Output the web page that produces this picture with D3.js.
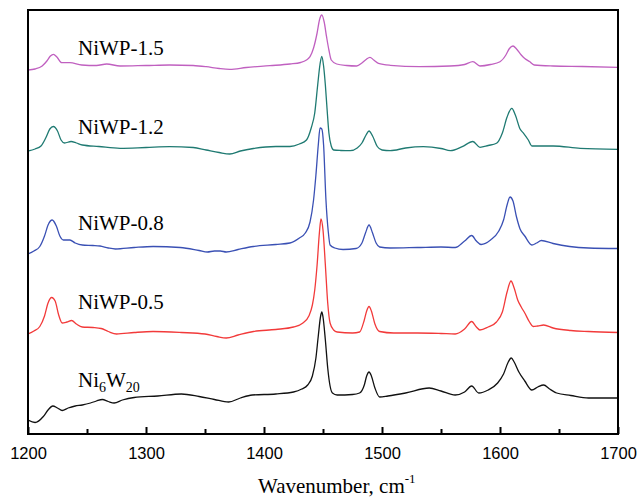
<!DOCTYPE html>
<html>
<head>
<meta charset="utf-8">
<script src="https://cdn.jsdelivr.net/npm/d3@7/dist/d3.min.js"></script>
<style>
  html, body { margin: 0; padding: 0; background: #fff; }
  svg { display: block; }
</style>
</head>
<body>
<svg id="chart" width="638" height="498"></svg>
<script>
// Wavenumber axis ticks
const xTicksMajor = [1200, 1300, 1400, 1500, 1600, 1700];
const xTicksMinor = [1250, 1350, 1450, 1550, 1650];

// Series names (bottom to top)
const seriesNames = ["Ni6W20", "NiWP-0.5", "NiWP-0.8", "NiWP-1.2", "NiWP-1.5"];

// Spectra: [wavenumber (cm-1), stacked intensity (a.u.)]
const ni6w20 = [
  [1200,14],[1206,11.5],[1213,17.5],[1217,24],[1221,28],[1225,26],[1229,23.5],[1234,26],
  [1240,28],[1246,29],[1253,31],[1258,33],[1263,34.5],[1268,32.5],[1273,31],[1280,34],
  [1290,36.5],[1310,38],[1330,40],[1345,37.5],[1358,34.5],[1370,32],[1380,36],[1390,39],
  [1410,40],[1425,42],[1432,45],[1437,49],[1441,58],[1444,76],[1446,98],[1448,118],
  [1449,122],[1450,117],[1452,94],[1454,66],[1456,48],[1458,41],[1462,39],[1475,39.5],
  [1481,41],[1485,49],[1487,58],[1489,62],[1491,58],[1494,46],[1498,37],[1505,38],
  [1520,41],[1540,46],[1550,43],[1562,39],[1570,42],[1576,48],[1582,41],[1590,44],
  [1598,51],[1603,60],[1607,72],[1609.5,76],[1612,72],[1616,62],[1621,53],[1627,44],
  [1632,47],[1637,49],[1642,45],[1648,41],[1660,38.5],[1675,36],[1700,36]
];
const niwp05 = [
  [1200,100],[1205,103],[1210,107.5],[1214,118],[1217,131],[1220,136.5],[1223,133],
  [1226,119],[1229,111],[1233,112],[1237,113.5],[1241,110],[1246,107],[1255,106.5],
  [1262,105.5],[1268,102.5],[1275,100],[1290,101.5],[1306,102.5],[1330,101.5],[1350,100],
  [1360,97.5],[1368,96],[1378,99],[1391,102.5],[1410,104.5],[1425,107],[1433,111],
  [1438,118],[1441,129],[1443,144],[1445,169],[1447,202],[1448.3,215],[1450,204],
  [1452,169],[1454,131],[1456,111],[1459,104],[1462,102],[1475,101],[1481,102],
  [1485,114],[1487,123],[1489,127.5],[1491,123],[1494,110],[1498,102.5],[1510,101],
  [1530,101],[1550,100.5],[1562,100],[1570,105],[1576,112.5],[1580,107],[1583,104],
  [1590,107],[1597,112],[1602,122],[1606,142],[1609.3,153],[1612,146],[1615,134],
  [1618,127],[1621,121],[1625,112],[1628,107.5],[1632,108],[1637,109],[1645,106],
  [1660,103.5],[1675,102.5],[1700,101.5]
];
const niwp08 = [
  [1200,180],[1205,183],[1210,187.5],[1214,198],[1217,209],[1220.5,214],[1224,208],
  [1227,198],[1230,194],[1235.5,194],[1240,191],[1246,189],[1255,188.5],[1261,188],
  [1268,186],[1274,185],[1290,186.5],[1306,187.5],[1329,186.5],[1345,183.5],[1352,182],
  [1358,183],[1363,183],[1368,182],[1378,184.5],[1391,187.5],[1410,189.5],[1422,191],
  [1430,196],[1435,201],[1439,212],[1442,234],[1444,259],[1446,289],[1447.5,306],
  [1449,305],[1450.5,289],[1452.5,234],[1454.5,202],[1456,189],[1460,186],[1467,184.5],
  [1478,185.5],[1483,191],[1486,201],[1489,209],[1492,201],[1495,191],[1498,187],
  [1507,186],[1530,186.5],[1550,187],[1562,186.5],[1570,193],[1576,198.5],[1580,193],
  [1584,189.5],[1592,194],[1599,203],[1603,214],[1606,229],[1608.5,237],[1611,233],
  [1614,217],[1617,205],[1621,198],[1627,189],[1631,191],[1635,193.5],[1645,190.5],
  [1659,187.5],[1675,186],[1700,185.5]
];
const niwp12 = [
  [1200,283],[1206,285],[1211,288],[1215,296],[1218.5,305],[1221.5,307.5],[1225,303],
  [1228,294],[1231,291],[1236.5,292.5],[1241,291],[1246,289],[1260,287.5],[1278,285.7],
  [1300,286.5],[1320,287.3],[1340,286.5],[1351,284],[1362,281.5],[1371,280],[1380,283],
  [1391,285.5],[1410,287.5],[1422,287.5],[1430,290],[1436,294],[1440,306],[1443,321],
  [1445.5,349],[1447.5,370],[1449,377.5],[1450.5,368],[1452,349],[1453.5,324],[1455,301],
  [1457,288],[1459,284],[1465,283.5],[1473,283.3],[1479,286],[1483,291],[1486.5,299],
  [1489,303],[1492,298],[1496,287.5],[1500,284],[1507,283.3],[1520,286],[1535,287.3],
  [1550,285.5],[1558,283.3],[1568,287.3],[1577,292.5],[1583,286.7],[1590,288.5],
  [1597,290.7],[1602,301],[1606,317],[1610,325.7],[1613,319],[1617,305],[1620,300.7],
  [1624,294],[1627,288],[1635,288],[1645,288],[1668,285.7],[1700,284.7]
];
const niwp15 = [
  [1200,364],[1206,365],[1212,368],[1216,373],[1219,378],[1221.5,379.7],[1224.5,377],
  [1228.5,371.3],[1235.5,371.3],[1245.5,369],[1258,368.5],[1266.7,370],[1278,368],
  [1300,368.5],[1320,369],[1340,368.5],[1351,367.3],[1362,365.5],[1371,364.7],[1385,366.5],
  [1405,368.3],[1422,370],[1431,371.5],[1436,374],[1439,377.3],[1442,386],[1445,401],
  [1447,414],[1449,419],[1451,412],[1453,397.3],[1455,384],[1457,374],[1461.6,370],
  [1470,368.5],[1478.5,368],[1483,371],[1486.5,374.5],[1489.8,376.7],[1493,374],
  [1497,370.7],[1507,368.7],[1532,367.3],[1557.6,368],[1570,369.5],[1577,372.3],
  [1583,368],[1592,369.5],[1600,372.3],[1605,379],[1608,385.5],[1611,388],[1614,385],
  [1618,379],[1621,375.5],[1625,372.5],[1629,369],[1645,368],[1670,367.5],[1700,366.7]
];

const seriesData = [ni6w20, niwp05, niwp08, niwp12, niwp15];
const seriesColors = ["#111111", "#f23a3a", "#3a50b4", "#1f7a72", "#c060c0"];

const svg = d3.select("#chart");
const margin = { left: 28, right: 20, top: 10, bottom: 64 };
const W = 638, H = 498;

const x = d3.scaleLinear().domain([1200, 1700]).range([margin.left, W - margin.right]);
const y = d3.scaleLinear().domain([0, 424]).range([H - margin.bottom, margin.top]);

// clip
svg.append("defs").append("clipPath").attr("id", "clip")
  .append("rect")
  .attr("x", margin.left).attr("y", margin.top)
  .attr("width", x(1700) - x(1200)).attr("height", y(0) - y(424));

const line = d3.line()
  .x(d => x(d[0]))
  .y(d => y(d[1]))
  .curve(d3.curveMonotoneX);

const g = svg.append("g").attr("clip-path", "url(#clip)");
seriesData.forEach((s, i) => {
  g.append("path")
    .datum(s)
    .attr("fill", "none")
    .attr("stroke", seriesColors[i])
    .attr("stroke-width", 1.3)
    .attr("stroke-linejoin", "round")
    .attr("d", line);
});

// Frame
svg.append("rect")
  .attr("x", x(1200)).attr("y", y(424))
  .attr("width", x(1700) - x(1200)).attr("height", y(0) - y(424))
  .attr("fill", "none").attr("stroke", "#000").attr("stroke-width", 2);

// Bottom axis (ticks inward)
const axisG = svg.append("g").attr("transform", `translate(0,${y(0)})`);
const majorAxis = d3.axisBottom(x).tickValues(xTicksMajor).tickSize(-7).tickPadding(0).tickFormat(d3.format("d"));
axisG.call(majorAxis);
axisG.select(".domain").remove();
axisG.selectAll(".tick line").attr("stroke", "#000").attr("stroke-width", 2);
axisG.selectAll(".tick text")
  .attr("y", 25)
  .attr("dy", 0)
  .attr("font-family", "'Liberation Sans', Arial, sans-serif")
  .attr("font-size", 16.5)
  .attr("fill", "#000");

const minorG = svg.append("g").attr("transform", `translate(0,${y(0)})`);
minorG.call(d3.axisBottom(x).tickValues(xTicksMinor).tickSize(-5).tickFormat(""));
minorG.select(".domain").remove();
minorG.selectAll(".tick line").attr("stroke", "#000").attr("stroke-width", 2);

// Series labels
const serif = "'Liberation Serif', 'Times New Roman', serif";
const labelPos = [
  { name: "NiWP-1.5", baselineVal: niwp15 },
  { name: "NiWP-1.2" },
  { name: "NiWP-0.8" },
  { name: "NiWP-0.5" }
];
const labelY = [55, 133.5, 230, 309];
["NiWP-1.5", "NiWP-1.2", "NiWP-0.8", "NiWP-0.5"].forEach((t, i) => {
  svg.append("text")
    .attr("x", 78).attr("y", labelY[i])
    .attr("font-family", serif).attr("font-size", 21)
    .attr("fill", "#000")
    .text(t);
});
const ni = svg.append("text")
  .attr("x", 78).attr("y", 387)
  .attr("font-family", serif).attr("font-size", 21).attr("fill", "#000");
ni.append("tspan").text("Ni");
ni.append("tspan").attr("font-size", 14).attr("dy", 5).text("6");
ni.append("tspan").attr("dy", -5).text("W");
ni.append("tspan").attr("font-size", 14).attr("dy", 5).text("20");

// Axis title
const title = svg.append("text")
  .attr("x", 258).attr("y", 493)
  .attr("font-family", serif).attr("font-size", 21).attr("fill", "#000");
title.append("tspan").text("Wavenumber, cm");
title.append("tspan").attr("font-size", 13).attr("dy", -10).text("-1");
</script>
</body>
</html>
